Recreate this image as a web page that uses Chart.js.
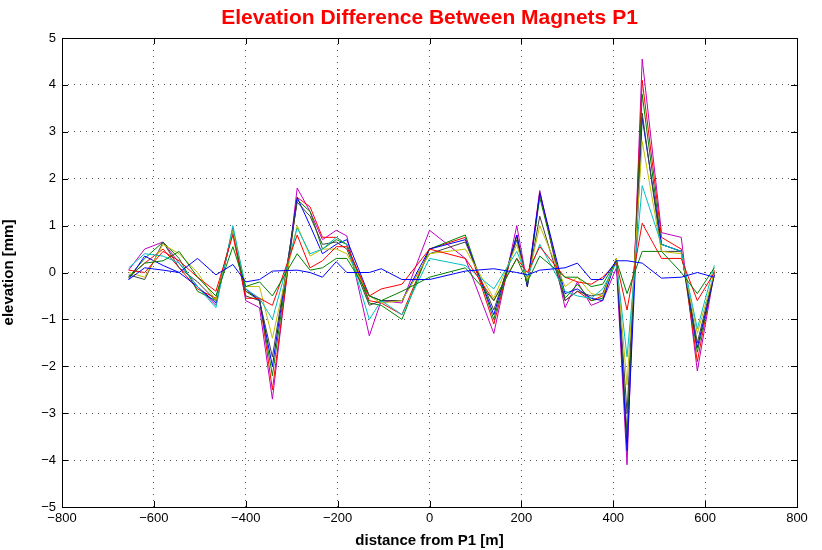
<!DOCTYPE html>
<html><head><meta charset="utf-8">
<script src="https://cdn.jsdelivr.net/npm/chart.js@4"></script>
<style>body{margin:0;background:#fff}#c{display:block}</style>
</head><body>
<canvas id="c" width="822" height="550"></canvas>
<script>
const distance = [-655,-620,-580,-545,-505,-465,-428,-400,-370,-342,-288,-260,-233,-203,-180,-131,-105,-60,0,78,140,190,213,240,295,322,352,377,407,430,463,505,548,583,620];
const blueFlat = [-0.15,0.1,0.05,0.0,0.3,-0.05,0.17,-0.2,-0.15,0.03,0.05,0.0,-0.1,0.23,0.0,0.0,0.08,-0.15,-0.15,0.03,0.08,0.0,-0.05,0.05,0.1,0.2,-0.15,-0.15,0.25,0.25,0.2,-0.12,-0.1,0.0,-0.1];
const greenS = [-0.1,0.2,0.25,0.45,-0.1,-0.5,0.55,-0.3,-0.2,-0.5,0.4,0.05,0.1,0.3,0.3,-0.5,-0.6,-0.4,-0.1,0.1,-0.6,0.3,-0.2,0.35,-0.1,-0.1,-0.3,-0.25,0.25,-0.45,0.45,0.45,0.0,-0.45,0.1];
const redS = [0.05,0.0,0.45,0.25,-0.1,-0.4,0.8,-0.55,-0.55,-0.7,0.8,0.1,0.25,0.55,0.55,-0.5,-0.35,-0.25,0.5,0.3,-0.6,0.3,0.0,0.55,-0.1,-0.2,-0.25,-0.1,0.2,-0.8,1.05,0.3,0.3,-0.6,0.0];
const cyanS = [0.1,0.4,0.35,0.2,-0.3,-0.75,1.0,-0.35,-0.55,-1.0,0.95,0.4,0.5,0.75,0.6,-1.0,-0.6,-0.9,0.3,0.15,-0.35,0.45,-0.1,0.6,-0.4,-0.5,-0.55,-0.35,0.2,-1.8,1.85,0.6,0.45,-1.2,0.15];
const oliveS = [0.0,-0.1,0.6,0.4,0.0,-0.6,0.9,-0.3,-0.3,-1.4,1.0,0.35,0.5,0.5,0.4,-0.5,-0.65,-0.6,0.4,0.5,-0.55,0.6,-0.2,1.0,-0.3,-0.1,-0.45,-0.5,0.3,-2.4,2.8,0.45,0.4,-1.3,0.0];
const grayS = [-0.05,-0.15,0.65,0.1,-0.2,-0.6,0.9,-0.5,-0.6,-1.8,1.5,1.2,0.6,0.65,0.5,-0.7,-0.6,-0.6,0.4,0.65,-0.8,0.7,-0.25,1.2,-0.6,-0.4,-0.5,-0.45,0.3,-3.0,3.4,0.45,0.45,-1.5,0.0];
const blueS = [-0.15,0.35,0.15,0.0,-0.3,-0.65,0.9,-0.35,-0.6,-2.0,1.6,1.0,0.4,0.6,0.7,-0.5,-0.6,-0.6,0.5,0.7,-0.9,0.8,-0.3,1.7,-0.45,-0.35,-0.55,-0.6,0.3,-3.8,3.3,0.6,0.45,-1.6,-0.05];
const dgreenS = [-0.1,0.3,0.65,0.3,-0.4,-0.6,0.9,-0.4,-0.6,-2.2,1.55,1.3,0.5,0.7,0.6,-0.65,-0.7,-1.0,0.5,0.8,-1.0,0.8,-0.3,1.6,-0.55,-0.25,-0.6,-0.55,0.3,-3.5,3.8,0.6,0.45,-1.7,-0.05];
const red2S = [-0.1,0.2,0.5,0.1,-0.35,-0.55,0.9,-0.4,-0.55,-2.5,1.6,1.4,0.75,0.75,0.6,-0.6,-0.65,-0.9,0.5,0.75,-1.1,0.8,-0.3,1.7,-0.6,-0.4,-0.6,-0.5,0.3,-3.6,4.1,0.75,0.5,-1.9,0.05];
const magentaS = [0.05,0.5,0.65,0.2,-0.3,-0.7,0.95,-0.6,-0.75,-2.7,1.8,1.3,0.7,0.9,0.78,-1.35,-0.6,-0.65,0.9,0.3,-1.3,1.0,-0.25,1.75,-0.75,-0.2,-0.7,-0.6,0.1,-4.1,4.55,0.85,0.75,-2.1,0.0];
const xTicks = [-800,-600,-400,-200,0,200,400,600,800];

const series = [
  [blueFlat,'#0000ff'],[greenS,'#008000'],[redS,'#ff0000'],[cyanS,'#00bfbf'],
  [oliveS,'#bfbf00'],[grayS,'#404040'],[blueS,'#0000ff'],[dgreenS,'#008000'],
  [red2S,'#ff0000'],[magentaS,'#bf00bf']
];
const fmt = v => (v < 0 ? '\u2212' + Math.abs(v) : '' + v);

const frame = {
  id: 'frame',
  afterDraw(c) {
    const a = c.chartArea, g = c.ctx;
    g.save();
    g.strokeStyle = '#000'; g.lineWidth = 1;
    g.strokeRect(a.left + 0.5, a.top + 0.5, a.right - a.left, a.bottom - a.top);
    g.beginPath();
    const xs = c.scales.x, ys = c.scales.y;
    xTicks.forEach(t => { const p = Math.round(xs.getPixelForValue(t)) + 0.5;
      g.moveTo(p, a.bottom); g.lineTo(p, a.bottom - 6); g.moveTo(p, a.top); g.lineTo(p, a.top + 6); });
    for (let t = -5; t <= 5; t++) { const p = Math.round(ys.getPixelForValue(t)) + 0.5;
      g.moveTo(a.left, p); g.lineTo(a.left + 6, p); g.moveTo(a.right, p); g.lineTo(a.right - 6, p); }
    g.stroke();
    g.fillStyle = '#ff0000';
    g.font = 'bold 21px "Liberation Sans", Arial';
    g.textAlign = 'center'; g.textBaseline = 'middle';
    g.fillText('Elevation Difference Between Magnets P1', (a.left + a.right) / 2, 18);
    g.restore();
  }
};

new Chart(document.getElementById('c'), {
  type: 'line',
  data: {
    datasets: series.map(([vals, col]) => ({
      data: vals.map((v, i) => ({x: distance[i], y: v})),
      borderColor: col, borderWidth: 1, pointRadius: 0, fill: false, tension: 0
    }))
  },
  options: {
    responsive: false, animation: false,
    layout: {padding: {top: 38, right: 25, left: 0, bottom: 0}},
    plugins: {legend: {display: false}, tooltip: {enabled: false}},
    scales: {
      x: {
        type: 'linear', min: -800, max: 800,
        afterBuildTicks: s => { s.ticks = xTicks.map(v => ({value: v})); },
        afterFit: s => { s.height = 43; },
        grid: {color: '#555', drawTicks: false},
        border: {display: false, dash: [1, 5]},
        ticks: {color: '#000', padding: 4, maxRotation: 0, font: {family: '"Liberation Sans", Arial', size: 13}, callback: fmt},
        title: {display: true, text: 'distance from P1 [m]', color: '#000', padding: 0,
          font: {family: '"Liberation Sans", Arial', size: 15, weight: 'bold'}}
      },
      y: {
        min: -5, max: 5,
        afterFit: s => { s.width = 62; },
        grid: {color: '#555', drawTicks: false},
        border: {display: false, dash: [1, 5]},
        ticks: {stepSize: 1, color: '#000', padding: 6, font: {family: '"Liberation Sans", Arial', size: 13}, callback: fmt},
        title: {display: true, text: 'elevation [mm]', color: '#000', padding: 0,
          font: {family: '"Liberation Sans", Arial', size: 15, weight: 'bold'}}
      }
    }
  },
  plugins: [frame]
});
</script>
</body></html>
